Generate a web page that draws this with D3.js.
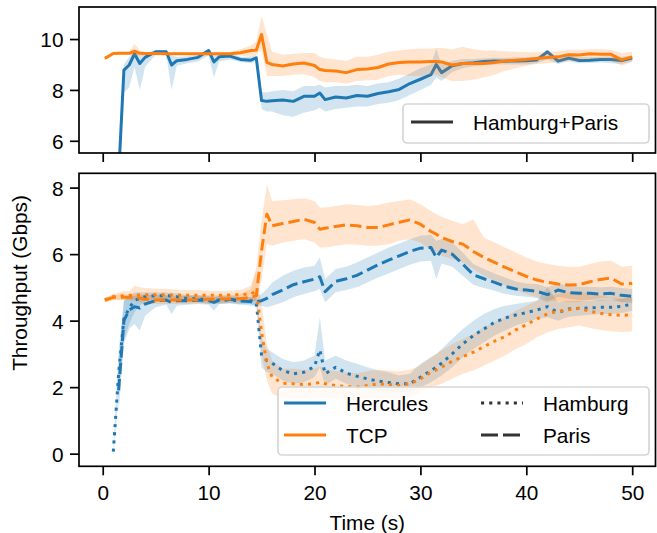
<!DOCTYPE html>
<html>
<head>
<meta charset="utf-8">
<script src="https://cdn.jsdelivr.net/npm/d3@7"></script>
<style>
  body { margin: 0; background: #fff; }
  text { font-family: "Liberation Sans", Arial, Helvetica, sans-serif; }
</style>
</head>
<body>
<svg id="chart" width="657" height="533"></svg>
<script>
// sample times (s)
const time = [0.2, 1, 1.5, 2, 2.5, 3, 3.5, 4, 5, 6, 6.5, 7, 8, 9, 10, 10.5, 11, 12, 13, 14,
  14.5, 15, 15.5, 16, 17, 18, 19, 20, 20.5, 21, 22, 23, 24, 25, 26, 27, 28, 29, 30, 31,
  31.5, 32, 33, 34, 35, 36, 37, 38, 39, 40, 41, 42, 43, 44, 45, 46, 47, 48, 49, 50];

// top panel: Hamburg+Paris
const hercTotal = [null, null, 4.6, 8.78, 8.98, 9.42, 9.04, 9.28, 9.5, 9.5,
  8.98, 9.15, 9.2, 9.28, 9.55, 9.1, 9.3, 9.33, 9.2, 9.17,
  9.26, 7.58, 7.55, 7.57, 7.6, 7.55, 7.75, 7.75, 7.88, 7.62,
  7.72, 7.68, 7.78, 7.75, 7.86, 7.93, 8.02, 8.25, 8.42, 8.6,
  9.0, 8.68, 8.95, 9.04, 9.07, 9.12, 9.14, 9.13, 9.14, 9.15,
  9.18, 9.5, 9.13, 9.25, 9.16, 9.17, 9.2, 9.2, 9.16, 9.25];
const hercTotalLo = [null, null, 4.0, 7.9, 8.1, 8.9, 8.0, 8.9, 9.38, 9.38,
  8.0, 8.95, 9.05, 9.12, 9.35, 8.5, 9.12, 9.2, 9.1, 9.05,
  9.15, 7.25, 7.15, 7.15, 7.0, 6.95, 7.1, 7.2, 7.3, 7.15,
  7.25, 7.3, 7.35, 7.35, 7.45, 7.5, 7.6, 7.8, 8.0, 8.2,
  8.5, 8.35, 8.7, 8.85, 8.92, 8.98, 9.0, 9.0, 9.0, 9.0,
  9.05, 9.2, 9.02, 9.12, 9.05, 9.06, 9.08, 9.05, 9.02, 9.12];
const hercTotalHi = [null, null, 5.2, 9.0, 9.3, 9.5, 9.35, 9.45, 9.56, 9.56,
  9.35, 9.3, 9.32, 9.38, 9.62, 9.4, 9.45, 9.45, 9.3, 9.3,
  9.35, 7.92, 7.9, 7.95, 8.0, 7.95, 8.15, 8.15, 8.2, 8.1,
  8.15, 8.15, 8.2, 8.15, 8.25, 8.3, 8.45, 8.65, 8.85, 9.0,
  9.62, 9.0, 9.15, 9.22, 9.22, 9.25, 9.26, 9.26, 9.27, 9.28,
  9.3, 9.55, 9.25, 9.35, 9.28, 9.28, 9.3, 9.32, 9.3, 9.35];

const tcpTotal = [9.24, 9.43, 9.44, 9.44, 9.44, 9.52, 9.44, 9.43, 9.43, 9.42,
  9.42, 9.42, 9.42, 9.42, 9.42, 9.42, 9.42, 9.42, 9.46, 9.55,
  9.56, 10.18, 9.08, 9.0, 8.94, 9.02, 9.06, 8.96, 8.8, 8.76,
  8.74, 8.68, 8.8, 8.82, 8.88, 9.02, 9.08, 9.1, 9.1, 9.12,
  9.12, 9.1, 8.98, 9.04, 9.04, 9.04, 9.08, 9.14, 9.17, 9.2,
  9.24, 9.27, 9.3, 9.38, 9.37, 9.42, 9.4, 9.4, 9.18, 9.3];
const tcpTotalLo = [9.2, 9.38, 9.38, 9.38, 9.38, 9.3, 9.35, 9.37, 9.37, 9.37,
  9.37, 9.37, 9.37, 9.37, 9.37, 9.37, 9.37, 9.37, 9.35, 9.3,
  9.35, 9.6, 8.55, 8.55, 8.55, 8.6, 8.62, 8.5, 8.35, 8.3,
  8.3, 8.25, 8.35, 8.38, 8.4, 8.55, 8.6, 8.55, 8.55, 8.6,
  8.6, 8.5, 8.35, 8.35, 8.4, 8.5, 8.6, 8.75, 8.85, 8.95,
  9.02, 9.05, 9.1, 9.15, 9.15, 9.2, 9.2, 9.15, 8.95, 9.1];
const tcpTotalHi = [9.28, 9.48, 9.5, 9.5, 9.5, 9.82, 9.55, 9.48, 9.48, 9.48,
  9.48, 9.48, 9.48, 9.48, 9.48, 9.48, 9.48, 9.48, 9.6, 9.75,
  9.9, 10.9, 10.2, 9.5, 9.38, 9.42, 9.45, 9.45, 9.3, 9.25,
  9.2, 9.15, 9.3, 9.3, 9.38, 9.5, 9.55, 9.6, 9.62, 9.62,
  9.65, 9.65, 9.6, 9.7, 9.6, 9.55, 9.55, 9.52, 9.5, 9.48,
  9.48, 9.5, 9.52, 9.58, 9.58, 9.6, 9.6, 9.58, 9.45, 9.5];

// bottom panel: per path
const hercHamburg = [null, 0.06, 2.4, 4.05, 4.38, 4.6, 4.68, 4.72, 4.75, 4.75,
  4.74, 4.72, 4.66, 4.66, 4.62, 4.6, 4.62, 4.62, 4.6, 4.6,
  4.55, 2.95, 2.8, 2.72, 2.5, 2.4, 2.45, 2.62, 3.12, 2.4,
  2.6, 2.42, 2.33, 2.25, 2.18, 2.14, 2.1, 2.1, 2.3, 2.5,
  2.6, 2.72, 3.0, 3.3, 3.55, 3.75, 3.95, 4.08, 4.17, 4.24,
  4.32, 4.42, 4.25, 4.35, 4.37, 4.38, 4.4, 4.4, 4.43, 4.5];
const hercHamburgLo = [null, 0.0, 1.7, 3.4, 3.9, 4.25, 4.45, 4.58, 4.65, 4.65,
  4.62, 4.6, 4.55, 4.55, 4.5, 4.5, 4.5, 4.52, 4.5, 4.5,
  4.42, 2.6, 2.45, 2.4, 2.2, 2.1, 2.15, 2.3, 2.6, 2.05,
  2.25, 2.1, 2.0, 1.95, 1.9, 1.88, 1.85, 1.85, 2.0, 2.15,
  2.25, 2.35, 2.6, 2.9, 3.15, 3.35, 3.55, 3.7, 3.85, 3.95,
  4.05, 4.1, 4.0, 4.12, 4.15, 4.18, 4.2, 4.2, 4.23, 4.3];
const hercHamburgHi = [null, 0.15, 3.1, 4.6, 4.75, 4.85, 4.85, 4.85, 4.85, 4.85,
  4.84, 4.82, 4.77, 4.77, 4.74, 4.72, 4.74, 4.72, 4.7, 4.7,
  4.68, 3.5, 3.15, 3.05, 2.85, 2.75, 2.8, 2.95, 4.1, 2.8,
  2.95, 2.8, 2.7, 2.6, 2.5, 2.45, 2.35, 2.4, 2.7, 2.9,
  3.0, 3.15, 3.45, 3.75, 4.0, 4.2, 4.35, 4.45, 4.5, 4.55,
  4.6, 5.0, 4.55, 4.6, 4.6, 4.6, 4.62, 4.62, 4.65, 4.7];

const hercParis = [null, null, 1.9, 4.0, 4.32, 4.42, 4.38, 4.5, 4.6, 4.62,
  4.55, 4.6, 4.6, 4.62, 4.6, 4.55, 4.62, 4.64, 4.6, 4.57,
  4.57, 4.6, 4.67, 4.78, 4.92, 5.08, 5.17, 5.25, 5.32, 4.87,
  5.18, 5.26, 5.36, 5.52, 5.68, 5.82, 5.95, 6.08, 6.18, 6.2,
  5.9, 6.12, 6.0, 5.7, 5.38, 5.26, 5.15, 5.03, 4.95, 4.92,
  4.88, 4.78, 4.92, 4.84, 4.82, 4.82, 4.8, 4.82, 4.76, 4.73];
const hercParisLo = [null, null, 1.2, 3.3, 3.75, 3.9, 3.7, 4.15, 4.4, 4.48,
  4.2, 4.45, 4.48, 4.5, 4.48, 4.3, 4.5, 4.52, 4.48, 4.45,
  4.45, 4.45, 4.4, 4.45, 4.55, 4.7, 4.8, 4.88, 4.95, 4.55,
  4.85, 4.92, 5.0, 5.15, 5.3, 5.42, 5.55, 5.68, 5.78, 5.8,
  5.25, 5.72, 5.62, 5.35, 5.08, 4.98, 4.9, 4.8, 4.75, 4.72,
  4.68, 4.55, 4.72, 4.65, 4.62, 4.62, 4.6, 4.62, 4.56, 4.52];
const hercParisHi = [null, null, 2.6, 4.6, 4.72, 4.75, 4.75, 4.78, 4.78, 4.76,
  4.72, 4.74, 4.74, 4.74, 4.72, 4.7, 4.74, 4.76, 4.72, 4.7,
  4.7, 4.8, 4.95, 5.15, 5.35, 5.5, 5.6, 5.65, 5.9, 5.25,
  5.55, 5.62, 5.75, 5.9, 6.05, 6.2, 6.32, 6.45, 6.55, 6.58,
  6.4, 6.45, 6.35, 6.05, 5.7, 5.55, 5.42, 5.3, 5.18, 5.12,
  5.1, 5.0, 5.12, 5.05, 5.02, 5.02, 5.0, 5.02, 4.98, 4.95];

const tcpHamburg = [4.62, 4.72, 4.74, 4.75, 4.76, 4.77, 4.77, 4.78, 4.78, 4.78,
  4.77, 4.77, 4.76, 4.76, 4.76, 4.76, 4.76, 4.77, 4.78, 4.8,
  4.9, 3.65, 2.72, 2.3, 2.12, 2.1, 2.08, 2.1, 2.15, 2.1,
  2.05, 2.02, 2.0, 2.05, 2.1, 2.08, 2.05, 2.1, 2.25, 2.45,
  2.52, 2.6, 2.78, 2.92, 3.05, 3.22, 3.38, 3.52, 3.72, 3.88,
  4.05, 4.2, 4.28, 4.33, 4.37, 4.28, 4.22, 4.18, 4.16, 4.17];
const tcpHamburgLo = [4.55, 4.62, 4.62, 4.62, 4.62, 4.6, 4.6, 4.6, 4.62, 4.62,
  4.62, 4.62, 4.62, 4.62, 4.62, 4.62, 4.62, 4.62, 4.6, 4.6,
  4.6, 3.0, 2.2, 1.8, 1.65, 1.65, 1.65, 1.68, 1.7, 1.68,
  1.65, 1.62, 1.6, 1.65, 1.68, 1.66, 1.65, 1.68, 1.85, 2.0,
  2.05, 2.1, 2.25, 2.4, 2.5, 2.65, 2.8, 2.95, 3.15, 3.3,
  3.5, 3.65, 3.75, 3.8, 3.85, 3.78, 3.72, 3.68, 3.66, 3.67];
const tcpHamburgHi = [4.68, 4.8, 4.85, 4.88, 4.88, 5.05, 5.0, 4.98, 4.96, 4.95,
  4.94, 4.93, 4.92, 4.92, 4.9, 4.9, 4.9, 4.9, 4.92, 5.05,
  5.5, 4.5, 3.3, 2.8, 2.55, 2.55, 2.52, 2.55, 2.62, 2.55,
  2.48, 2.45, 2.42, 2.48, 2.52, 2.5, 2.48, 2.52, 2.65, 2.9,
  3.0, 3.1, 3.3, 3.45, 3.6, 3.8, 3.95, 4.1, 4.3, 4.45,
  4.6, 4.72, 4.8, 4.85, 4.88, 4.8, 4.75, 4.7, 4.68, 4.68];

const tcpParis = [4.62, 4.7, 4.7, 4.7, 4.7, 4.7, 4.68, 4.64, 4.62, 4.62,
  4.62, 4.62, 4.62, 4.63, 4.64, 4.64, 4.65, 4.65, 4.66, 4.7,
  4.75, 6.1, 7.2, 6.85, 6.92, 6.98, 7.05, 6.95, 6.75, 6.78,
  6.83, 6.88, 6.85, 6.8, 6.8, 6.88, 6.96, 7.03, 6.9, 6.68,
  6.6, 6.5, 6.38, 6.3, 6.08, 5.9, 5.75, 5.6, 5.47, 5.33,
  5.22, 5.15, 5.1, 5.07, 5.08, 5.17, 5.24, 5.28, 5.1, 5.12];
const tcpParisLo = [4.55, 4.62, 4.62, 4.62, 4.62, 4.6, 4.55, 4.52, 4.5, 4.5,
  4.5, 4.5, 4.5, 4.52, 4.52, 4.52, 4.53, 4.53, 4.54, 4.55,
  4.6, 5.2, 6.3, 6.25, 6.35, 6.4, 6.45, 6.35, 6.2, 6.2,
  6.25, 6.3, 6.28, 6.25, 6.25, 6.3, 6.4, 6.45, 6.35, 6.12,
  6.05, 5.95, 5.85, 5.75, 5.55, 5.35, 5.2, 5.05, 4.92, 4.8,
  4.7, 4.62, 4.58, 4.55, 4.55, 4.62, 4.68, 4.7, 4.55, 4.6];
const tcpParisHi = [4.68, 4.78, 4.78, 4.78, 4.78, 4.8, 4.8, 4.78, 4.76, 4.76,
  4.76, 4.76, 4.76, 4.76, 4.77, 4.77, 4.78, 4.78, 4.8, 4.95,
  5.6, 7.0, 8.1, 7.6, 7.62, 7.65, 7.68, 7.6, 7.4, 7.4,
  7.45, 7.5, 7.48, 7.45, 7.48, 7.55, 7.6, 7.65, 7.5, 7.3,
  7.2, 7.12, 7.0, 6.9, 7.05, 6.5, 6.35, 6.2, 6.05, 5.9,
  5.78, 5.7, 5.65, 5.62, 5.62, 5.7, 5.78, 5.8, 5.62, 5.65];

const xTicks = [0, 10, 20, 30, 40, 50];
const topTicks = [6, 8, 10];
const bottomTicks = [0, 2, 4, 6, 8];

const blue = "#1f77b4", orange = "#ff7f0e", ink = "#333333";
const dotted = "3.1,5.1", dashed = "11.5,5";
const fontSize = "20.8px";

const svg = d3.select("#chart");
const left = 79, right = 655.5;
const topBox = { y0: 7, y1: 153 };
const botBox = { y0: 173.3, y1: 466.3 };

const x = d3.scaleLinear().domain([-2.24, 52.2]).range([left, right]);
const yTop = d3.scaleLinear().domain([5.52, 11.26]).range([topBox.y1, topBox.y0]);
const yBot = d3.scaleLinear().domain([-0.38, 8.43]).range([botBox.y1, botBox.y0]);

// clip paths for the two panels
const defs = svg.append("defs");
[["clipTop", topBox], ["clipBot", botBox]].forEach(([id, b]) => {
  defs.append("clipPath").attr("id", id)
    .append("rect")
      .attr("x", left).attr("y", b.y0)
      .attr("width", right - left).attr("height", b.y1 - b.y0);
});

const gTop = svg.append("g").attr("clip-path", "url(#clipTop)");
const gBot = svg.append("g").attr("clip-path", "url(#clipBot)");

function band(g, y, lo, hi, color) {
  const area = d3.area()
    .defined((d, i) => lo[i] != null && hi[i] != null)
    .x(d => x(d))
    .y0((d, i) => y(lo[i]))
    .y1((d, i) => y(hi[i]));
  g.append("path").datum(time)
    .attr("d", area)
    .attr("fill", color)
    .attr("fill-opacity", 0.2);
}

function line(g, y, vals, color, dash) {
  const l = d3.line()
    .defined((d, i) => vals[i] != null)
    .x(d => x(d))
    .y((d, i) => y(vals[i]));
  g.append("path").datum(time)
    .attr("d", l)
    .attr("fill", "none")
    .attr("stroke", color)
    .attr("stroke-width", 3)
    .attr("stroke-linejoin", "round")
    .attr("stroke-dasharray", dash || null);
}

// top panel
band(gTop, yTop, hercTotalLo, hercTotalHi, blue);
line(gTop, yTop, hercTotal, blue);
band(gTop, yTop, tcpTotalLo, tcpTotalHi, orange);
line(gTop, yTop, tcpTotal, orange);

// bottom panel
band(gBot, yBot, hercHamburgLo, hercHamburgHi, blue);
band(gBot, yBot, hercParisLo, hercParisHi, blue);
band(gBot, yBot, tcpHamburgLo, tcpHamburgHi, orange);
band(gBot, yBot, tcpParisLo, tcpParisHi, orange);
line(gBot, yBot, hercHamburg, blue, dotted);
line(gBot, yBot, hercParis, blue, dashed);
line(gBot, yBot, tcpHamburg, orange, dotted);
line(gBot, yBot, tcpParis, orange, dashed);

// axes
function styleAxis(g) {
  g.select(".domain").remove();
  g.selectAll(".tick line").attr("stroke", "#000").attr("stroke-width", 1.7);
  g.selectAll(".tick text").attr("fill", "#000").style("font-size", fontSize);
}

function drawAxes(y, ticks, box, withLabels) {
  const gx = svg.append("g")
    .attr("transform", `translate(0,${box.y1})`)
    .call(d3.axisBottom(x).tickValues(xTicks).tickSize(9)
      .tickFormat(withLabels ? d3.format("d") : () => ""));
  styleAxis(gx);
  gx.selectAll(".tick text").attr("y", 34).attr("dy", 0);

  const gy = svg.append("g")
    .attr("transform", `translate(${left},0)`)
    .call(d3.axisLeft(y).tickValues(ticks).tickSize(9).tickFormat(d3.format("d")));
  styleAxis(gy);
  gy.selectAll(".tick text").attr("x", -15.5).attr("dy", "0.36em");

  svg.append("rect")
    .attr("x", left).attr("y", box.y0)
    .attr("width", right - left).attr("height", box.y1 - box.y0)
    .attr("fill", "none").attr("stroke", "#000").attr("stroke-width", 1.7);
}

drawAxes(yTop, topTicks, topBox, false);
drawAxes(yBot, bottomTicks, botBox, true);

// axis labels
svg.append("text")
  .attr("x", (left + right) / 2).attr("y", 530)
  .attr("text-anchor", "middle")
  .style("font-size", fontSize)
  .text("Time (s)");

svg.append("text")
  .attr("transform", "translate(27,283) rotate(-90)")
  .attr("text-anchor", "middle")
  .style("font-size", fontSize)
  .text("Throughput (Gbps)");

// legends
function legendBox(x0, y0, w, h) {
  svg.append("rect")
    .attr("x", x0).attr("y", y0).attr("width", w).attr("height", h)
    .attr("rx", 4).attr("ry", 4)
    .attr("fill", "#fff").attr("fill-opacity", 0.8)
    .attr("stroke", "#d6d6d6").attr("stroke-width", 1.7);
}

function legendItem(x0, yMid, label, color, dash) {
  svg.append("line")
    .attr("x1", x0).attr("x2", x0 + 42)
    .attr("y1", yMid).attr("y2", yMid)
    .attr("stroke", color).attr("stroke-width", 3)
    .attr("stroke-dasharray", dash || null);
  svg.append("text")
    .attr("x", x0 + 62).attr("y", yMid + 7.5)
    .style("font-size", fontSize)
    .attr("fill", "#000")
    .text(label);
}

legendBox(403, 104, 246, 39);
legendItem(411, 122, "Hamburg+Paris", ink);

legendBox(278, 387, 371, 68);
legendItem(284, 403, "Hercules", blue);
legendItem(284, 435, "TCP", orange);
legendItem(481, 403, "Hamburg", ink, dotted);
legendItem(481, 435, "Paris", ink, "17,5");
</script>
</body>
</html>
